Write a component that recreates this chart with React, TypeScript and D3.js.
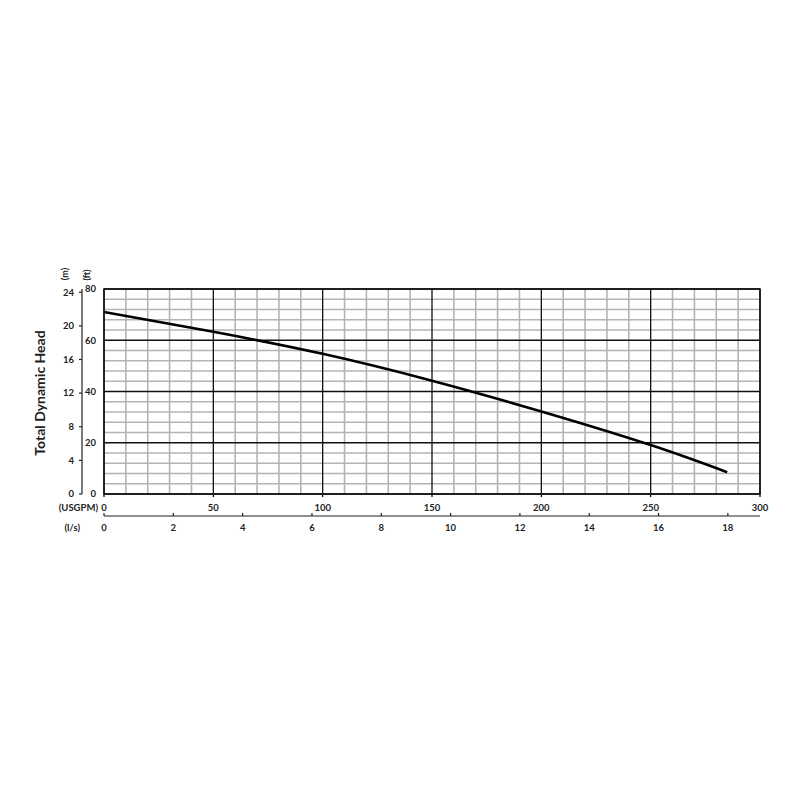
import React from "react";
import * as d3 from "d3";

const flowGpm = [0, 50, 100, 150, 200, 250, 285];
const headFt = [71, 63.3, 54.7, 44.2, 32.2, 19.1, 8.5];

const gpmTicks = [0, 50, 100, 150, 200, 250, 300];
const lpsTicks = [0, 2, 4, 6, 8, 10, 12, 14, 16, 18];
const ftTicks = [0, 20, 40, 60, 80];
const mTicks = [0, 4, 8, 12, 16, 20, 24];

const GPM_PER_LPS = 15.850323;
const FT_PER_M = 3.28084;

const FONT = "Lato, 'Open Sans', sans-serif";

export default function App() {
  const left = 104, right = 760, top = 289, bottom = 494;
  const x = d3.scaleLinear().domain([0, 300]).range([left, right]);
  const y = d3.scaleLinear().domain([0, 80]).range([bottom, top]);

  const minorX = d3.range(0, 301, 10);
  const minorY = d3.range(0, 81, 4);

  const line = d3
    .line<number>()
    .x((_, i) => x(flowGpm[i]))
    .y((d) => y(d))
    .curve(d3.curveNatural);

  const mAxisX = 82;
  const lpsY = 516;

  return (
    <div style={{ position: "absolute", left: 0, top: 0 }}>
      <svg width={800} height={800} style={{ display: "block", background: "#fff" }} fontFamily={FONT}>
        {/* minor grid */}
        {minorX.filter((v) => v % 50 !== 0).map((v) => (
          <line key={"mx" + v} x1={x(v)} x2={x(v)} y1={top} y2={bottom} stroke="#b4b4b4" strokeWidth={1.6} />
        ))}
        {minorY.filter((v) => v % 20 !== 0).map((v) => (
          <line key={"my" + v} x1={left} x2={right} y1={y(v)} y2={y(v)} stroke="#b4b4b4" strokeWidth={1.6} />
        ))}
        {/* major grid */}
        {gpmTicks.map((v) => (
          <line key={"MX" + v} x1={x(v)} x2={x(v)} y1={top} y2={bottom + 3} stroke="#111" strokeWidth={1.3} />
        ))}
        {ftTicks.map((v) => (
          <line key={"MY" + v} x1={left} x2={right} y1={y(v)} y2={y(v)} stroke="#111" strokeWidth={1.3} />
        ))}
        <rect x={left} y={top} width={right - left} height={bottom - top} fill="none" stroke="#111" strokeWidth={1.5} />

        {/* curve */}
        <path d={line(headFt) || ""} fill="none" stroke="#000" strokeWidth={2.6} />

        {/* ft labels */}
        {ftTicks.map((v) => (
          <text key={"ft" + v} x={96} y={y(v)} dy="0.35em" textAnchor="end" fontSize={9.5} fontWeight="bold" fill="#222">
            {v}
          </text>
        ))}
        {/* m axis */}
        <line x1={mAxisX} x2={mAxisX} y1={top} y2={bottom} stroke="#222" strokeWidth={1.2} />
        {mTicks.map((v) => {
          const yy = y(v * FT_PER_M);
          return (
            <g key={"m" + v}>
              <line x1={mAxisX - 3} x2={mAxisX} y1={yy} y2={yy} stroke="#222" strokeWidth={1.2} />
              <text x={74} y={yy} dy="0.35em" textAnchor="end" fontSize={9.5} fontWeight="bold" fill="#222">
                {v}
              </text>
            </g>
          );
        })}
        <text transform={`translate(68,274) rotate(-90)`} textAnchor="middle" fontSize={9} fontWeight="bold" fill="#222">
          (m)
        </text>
        <text transform={`translate(90,275) rotate(-90)`} textAnchor="middle" fontSize={9} fontWeight="bold" fill="#222">
          (ft)
        </text>
        <text transform={`translate(45,393) rotate(-90)`} textAnchor="middle" fontSize={14} fontWeight="bold" fill="#222">
          Total Dynamic Head
        </text>

        {/* gpm labels */}
        {gpmTicks.map((v) => (
          <text key={"g" + v} x={x(v)} y={508} dy="0.35em" textAnchor="middle" fontSize={9.5} fontWeight="bold" fill="#222">
            {v}
          </text>
        ))}
        <text x={98} y={508} dy="0.35em" textAnchor="end" fontSize={9.5} fontWeight="bold" fill="#222">
          (USGPM)
        </text>

        {/* l/s axis */}
        <line x1={left} x2={right} y1={lpsY} y2={lpsY} stroke="#222" strokeWidth={1.2} />
        {lpsTicks.map((v) => {
          const xx = x(v * GPM_PER_LPS);
          return (
            <g key={"l" + v}>
              <line x1={xx} x2={xx} y1={lpsY - 3} y2={lpsY} stroke="#222" strokeWidth={1.2} />
              <text x={xx} y={528} dy="0.35em" textAnchor="middle" fontSize={9.5} fontWeight="bold" fill="#222">
                {v}
              </text>
            </g>
          );
        })}
        <text x={80} y={528} dy="0.35em" textAnchor="end" fontSize={9.5} fontWeight="bold" fill="#222">
          (l/s)
        </text>
      </svg>
    </div>
  );
}
